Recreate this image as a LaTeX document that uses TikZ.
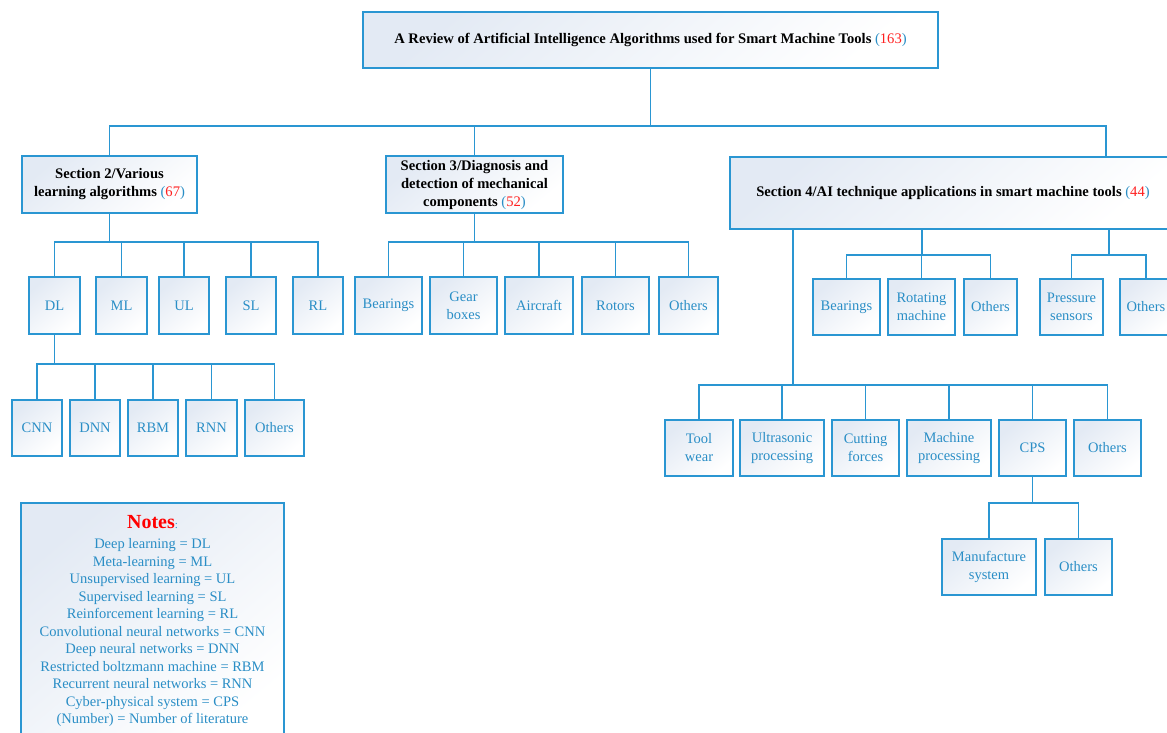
\documentclass[tikz,border=0pt]{standalone}
\usepackage{fontspec}
\setmainfont{Liberation Serif}
\definecolor{ln}{HTML}{2A96D2}
\definecolor{tx}{HTML}{2A8EC6}
\definecolor{tint}{HTML}{E3EAF4}
\definecolor{num}{HTML}{FF2020}
\tikzset{
  box/.style={draw=ln, line width=1.2pt, top color=tint, bottom color=white, shading angle=40,
    inner sep=1pt, align=center, text=tx, font=\fontsize{14.5}{18}\selectfont},
  head/.style={box, text=black, font=\fontsize{14.6}{18}\selectfont\bfseries},
  conn/.style={draw=ln, line width=1.2pt},
}
\newcommand\cnt[1]{{\mdseries\color{tx}(}{\mdseries\color{num}#1}{\mdseries\color{tx})}}
\newcommand\pbox[7]{\node[#1, minimum width={#5-#3}, minimum height={#6-#4}] (#2) at ({(#3+#5)/2},{(#4+#6)/2}) {#7};}
\begin{document}
\begin{tikzpicture}[x=1pt,y=-1pt]
\useasboundingbox (0,0) rectangle (1167,733);
% title and sections
\pbox{head}{title}{363}{12}{938}{68}{A Review of Artificial Intelligence Algorithms used for Smart Machine Tools \cnt{163}}
\pbox{head}{sec2}{22}{156}{197}{213}{Section 2/Various\\learning algorithms \cnt{67}}
\pbox{head}{sec3}{386}{156}{563}{213}{Section 3/Diagnosis and\\detection of mechanical\\components \cnt{52}}
\pbox{head}{sec4}{730}{157}{1176}{229}{Section 4/AI technique applications in smart machine tools \cnt{44}}
% section 2 children
\pbox{box}{dl}{29}{277}{80}{334}{DL}
\pbox{box}{ml}{96}{277}{147}{334}{ML}
\pbox{box}{ul}{159}{277}{209}{334}{UL}
\pbox{box}{sl}{226}{277}{276}{334}{SL}
\pbox{box}{rl}{293}{277}{343}{334}{RL}
\pbox{box}{cnn}{12}{400}{62}{456}{CNN}
\pbox{box}{dnn}{70}{400}{120}{456}{DNN}
\pbox{box}{rbm}{128}{400}{178}{456}{RBM}
\pbox{box}{rnn}{186}{400}{237}{456}{RNN}
\pbox{box}{othdl}{245}{400}{304}{456}{Others}
% section 3 children
\pbox{box}{brgA}{355}{277}{422}{334}{Bearings}
\pbox{box}{gear}{430}{277}{497}{334}{Gear\\boxes}
\pbox{box}{air}{505}{277}{573}{334}{Aircraft}
\pbox{box}{rot}{582}{277}{649}{334}{Rotors}
\pbox{box}{othA}{659}{277}{718}{334}{Others}
% section 4 children
\pbox{box}{brgB}{813}{279}{880}{335}{Bearings}
\pbox{box}{rotm}{888}{279}{955}{335}{Rotating\\machine}
\pbox{box}{othB}{964}{279}{1017}{335}{Others}
\pbox{box}{pres}{1040}{279}{1103}{335}{Pressure\\sensors}
\pbox{box}{othC}{1120}{279}{1172}{335}{Others}
\pbox{box}{tool}{665}{420}{733}{476}{Tool\\wear}
\pbox{box}{ultra}{740}{420}{824}{476}{Ultrasonic\\processing}
\pbox{box}{cut}{832}{420}{899}{476}{Cutting\\forces}
\pbox{box}{mach}{907}{420}{991}{476}{Machine\\processing}
\pbox{box}{cps}{999}{420}{1066}{476}{CPS}
\pbox{box}{othD}{1074}{420}{1141}{476}{Others}
\pbox{box}{manu}{942}{539}{1036}{595}{Manufacture\\system}
\pbox{box}{othE}{1045}{539}{1112}{595}{Others}
% notes
\pbox{box}{notes}{21}{503}{284}{745}{}
\node[anchor=north, align=center, text=tx, font=\fontsize{14.5}{17.5}\selectfont, inner sep=0pt] (notestext) at (152.5,515)
  {{\color{red}\fontsize{20}{22}\selectfont\bfseries Notes}{\fontsize{11}{14}\selectfont:}\\[3pt]
   Deep learning = DL\\
   Meta-learning = ML\\
   Unsupervised learning = UL\\
   Supervised learning = SL\\
   Reinforcement learning = RL\\
   Convolutional neural networks = CNN\\
   Deep neural networks = DNN\\
   Restricted boltzmann machine = RBM\\
   Recurrent neural networks = RNN\\
   Cyber-physical system = CPS\\
   (Number) = Number of literature};
% connectors: top level
\coordinate (bus0) at (title.south |- 0,126);
\draw[conn] (title.south) -- (bus0);
\draw[conn] (sec2.north) |- (bus0) -| (sec4.north -| 1106,0);
\draw[conn] (sec3.north) -- (sec3.north |- bus0);
% section 2
\coordinate (bus2) at (sec2.south |- 0,242);
\draw[conn] (sec2.south) -- (bus2);
\foreach \n in {dl,ml,ul,sl,rl} \draw[conn] (bus2) -| (\n.north);
\coordinate (busdl) at (dl.south |- 0,364);
\draw[conn] (dl.south) -- (busdl);
\foreach \n in {cnn,dnn,rbm,rnn,othdl} \draw[conn] (busdl) -| (\n.north);
% section 3
\coordinate (bus3) at (sec3.south |- 0,242);
\draw[conn] (sec3.south) -- (bus3);
\foreach \n in {brgA,gear,air,rot,othA} \draw[conn] (bus3) -| (\n.north);
% section 4
\coordinate (bus4a) at (793,385);
\coordinate (bus4b) at (922,255);
\coordinate (bus4c) at (1109,255);
\draw[conn] (sec4.south -| bus4a) -- (bus4a);
\draw[conn] (sec4.south -| bus4b) -- (bus4b);
\draw[conn] (sec4.south -| bus4c) -- (bus4c);
\foreach \n in {tool,ultra,cut,mach,cps,othD} \draw[conn] (bus4a) -| (\n.north);
\foreach \n in {brgB,rotm,othB} \draw[conn] (bus4b) -| (\n.north);
\foreach \n in {pres,othC} \draw[conn] (bus4c) -| (\n.north);
\coordinate (buscps) at (cps.south |- 0,503);
\draw[conn] (cps.south) -- (buscps);
\foreach \n in {manu,othE} \draw[conn] (buscps) -| (\n.north);
\end{tikzpicture}
\end{document}
